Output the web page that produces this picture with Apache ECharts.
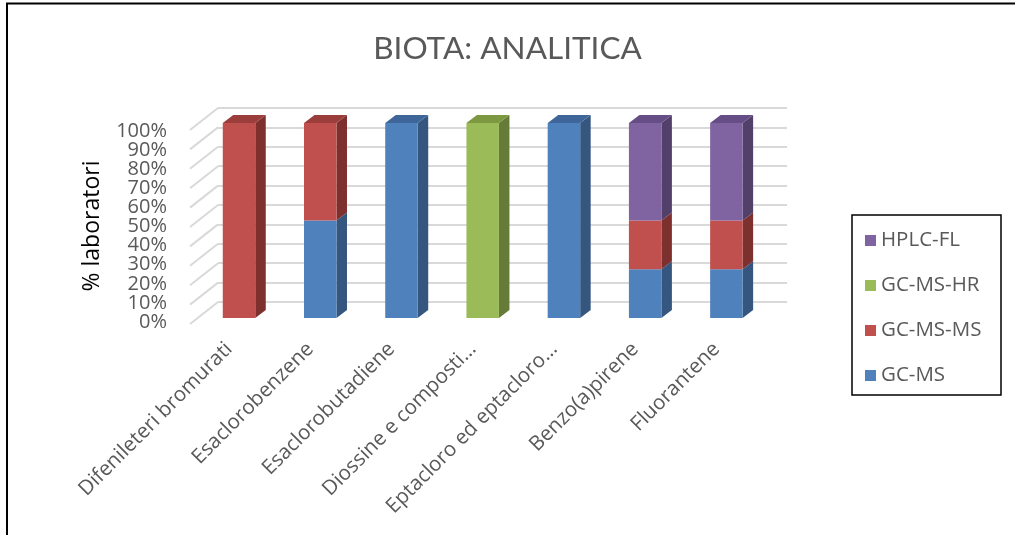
<!DOCTYPE html>
<html>
<head>
<meta charset="utf-8">
<script src="https://cdn.jsdelivr.net/npm/echarts@6/dist/echarts.min.js"></script>
<style>html,body{margin:0;padding:0;background:#fff}#c{width:1015px;height:535px}</style>
</head>
<body>
<div id="c"></div>
<script>
const categories = ['Difenileteri bromurati','Esaclorobenzene','Esaclorobutadiene','Diossine e composti\u2026','Eptacloro ed eptacloro\u2026','Benzo(a)pirene','Fluorantene'];
const gcms   = [0, 50, 100, 0, 100, 25, 25];
const gcmsms = [100, 50, 0, 0, 0, 25, 25];
const gcmshr = [0, 0, 0, 100, 0, 0, 0];
const hplcfl = [0, 0, 0, 0, 0, 50, 50];
const yTicks = [0, 10, 20, 30, 40, 50, 60, 70, 80, 90, 100];
const yTickLabels = ['0%','10%','20%','30%','40%','50%','60%','70%','80%','90%','100%'];

const seriesDefs = [
  {name:'GC-MS', data:gcms, front:'#4F81BD', side:'#34567F', top:'#3F6699'},
  {name:'GC-MS-MS', data:gcmsms, front:'#C0504D', side:'#7E302E', top:'#9B3D3A'},
  {name:'GC-MS-HR', data:gcmshr, front:'#9BBB59', side:'#657B37', top:'#7C9840'},
  {name:'HPLC-FL', data:hplcfl, front:'#8064A2', side:'#52406A', top:'#664D85'}
];
const totals = categories.map((c,i)=>seriesDefs.reduce((s,d)=>s+d.data[i],0));

const FONT = '"Open Sans", sans-serif';
const TFONT = 'Lato, "Open Sans", sans-serif';
const DX = 10.5, DY = -8;

const barSeries = seriesDefs.map((d, si) => {
  const rows = d.data.map((v, i) => {
    let base = 0;
    for (let k = 0; k < si; k++) base += seriesDefs[k].data[i];
    return [i, base, base + v];
  });
  return {
    type:'custom', name:d.name, xAxisIndex:2, yAxisIndex:2, z:10,
    itemStyle:{color:d.front},
    data: rows,
    renderItem: function(params, api){
      const i = api.value(0), b = api.value(1), t = api.value(2);
      if (t <= b) return null;
      const p0 = api.coord([i, b]), p1 = api.coord([i, t]);
      const w = api.size([1, 0])[0] * 0.4;
      const x0 = p0[0] - w/2, x1 = p0[0] + w/2;
      const ch = [
        {type:'polygon', shape:{points:[[x1,p0[1]],[x1,p1[1]],[x1+DX,p1[1]+DY],[x1+DX,p0[1]+DY]]}, style:{fill:d.side}},
        {type:'rect', shape:{x:x0, y:p1[1], width:w, height:p0[1]-p1[1]}, style:{fill:d.front}}
      ];
      if (t >= totals[i]) {
        ch.push({type:'polygon', shape:{points:[[x0,p1[1]],[x1,p1[1]],[x1+DX,p1[1]+DY],[x0+DX,p1[1]+DY]]}, style:{fill:d.top}});
      }
      return {type:'group', children:ch};
    }
  };
});

const chart = echarts.init(document.getElementById('c'));
chart.setOption({
  animation:false,
  title:{text:'BIOTA: ANALITICA', left:'center', top:28, textStyle:{fontFamily:TFONT, fontSize:31.5, fontWeight:'normal', color:'#595959'}},
  grid:[
    {left:218, right:228, top:108, height:194},
    {left:175, width:10, top:131, height:191},
    {left:198.4, right:248, top:123, height:195}
  ],
  xAxis:[
    {gridIndex:0, type:'value', min:0, max:1, show:false},
    {gridIndex:1, type:'value', min:0, max:1, show:false},
    {gridIndex:2, type:'category', data:categories, axisLine:{show:false}, axisTick:{show:false},
     axisLabel:{interval:0, rotate:45, margin:18, padding:[0,14,0,0], fontFamily:FONT, fontSize:20.5, color:'#595959'}}
  ],
  yAxis:[
    {gridIndex:0, type:'value', min:0, max:100, interval:10, axisLabel:{show:false}, axisLine:{show:false}, axisTick:{show:false},
     splitLine:{show:true, lineStyle:{color:'#D9D9D9', width:2}}},
    {gridIndex:1, type:'value', min:0, max:100, interval:10, show:false},
    {gridIndex:2, type:'value', min:0, max:100, show:false}
  ],
  legend:{
    orient:'vertical', left:865, top:230, padding:0, itemWidth:11, itemHeight:11, itemGap:24, icon:'rect',
    data:['HPLC-FL','GC-MS-HR','GC-MS-MS','GC-MS'],
    textStyle:{fontFamily:FONT, fontSize:20.5, color:'#595959', lineHeight:20}
  },
  graphic:[
    {type:'polyline', shape:{points:[[7,535],[7,3.5],[1015,3.5]]}, style:{stroke:'#000', lineWidth:2, fill:null}},
    {type:'rect', shape:{x:852, y:215, width:149, height:180}, style:{stroke:'#000', lineWidth:1.5, fill:null}},
    {type:'text', x:92, y:226, rotation:Math.PI/2, style:{text:'% laboratori', fontFamily:FONT, fontSize:23, fill:'#000', align:'center', verticalAlign:'middle'}}
  ],
  series:[
    {type:'custom', xAxisIndex:0, yAxisIndex:0, z:1, silent:true,
     data:yTicks,
     renderItem:function(params, api){
       const p = api.coord([0, api.value(0)]);
       return {type:'line', shape:{x1:p[0], y1:p[1], x2:p[0]-28, y2:p[1]+22}, style:{stroke:'#D9D9D9', lineWidth:2}};
     }},
    {type:'custom', xAxisIndex:1, yAxisIndex:1, z:5, silent:true,
     data:yTicks.map((v,k)=>[v, k]),
     renderItem:function(params, api){
       const p = api.coord([0, api.value(0)]);
       return {type:'text', style:{x:p[0]-8, y:p[1], text:yTickLabels[api.value(1)], align:'right', verticalAlign:'middle', fontFamily:FONT, fontSize:20, fill:'#595959'}};
     }}
  ].concat(barSeries)
});
</script>
</body>
</html>
